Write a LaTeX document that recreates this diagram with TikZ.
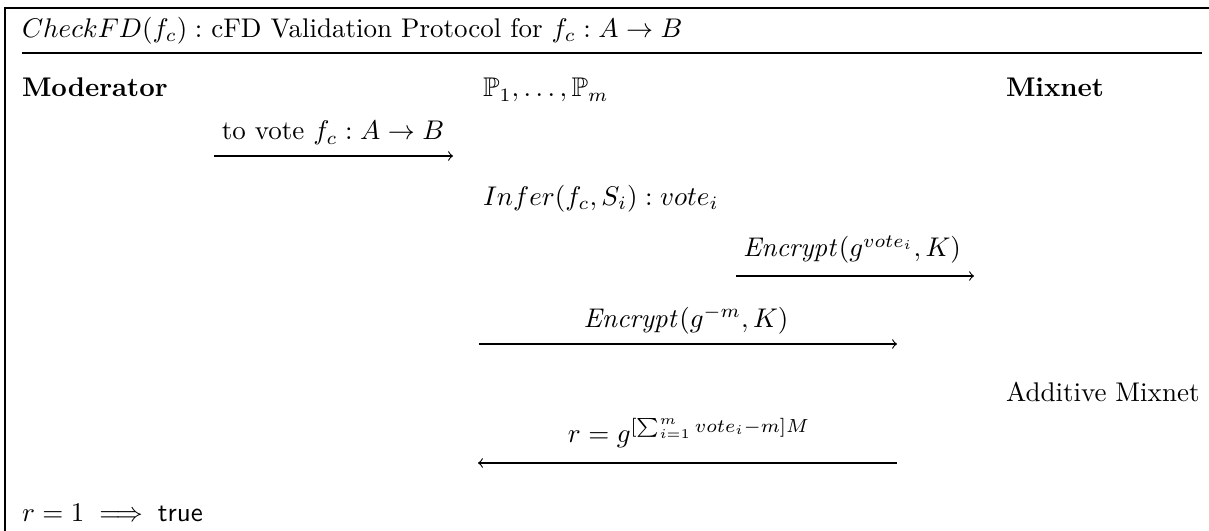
\documentclass[tikz,border=0pt]{standalone}
\usepackage{amsmath,amssymb}
\begin{document}
\begin{tikzpicture}[x=0.3704pt,y=-0.3704pt,
  frame/.style={line width=0.4pt},
  txt/.style={anchor=base west,inner sep=0pt,outer sep=0pt},
  lbl/.style={anchor=base,inner sep=0pt,outer sep=0pt},
  msg/.style={->,line width=0.4pt}]
\useasboundingbox (0,0) rectangle (1209,531);
% frame
\coordinate (tl) at (5,8);
\coordinate (tr) at (1212,8);
\coordinate (bl) at (5,534);
\draw[frame] (tr) -- (tl) -- (bl);
\coordinate (sepL) at (22,53);
\coordinate (sepR) at (1202,53);
\draw[frame] (sepL) -- (sepR);
% title
\node[txt] (title) at (22,37.5) {$CheckFD(f_c) :$ cFD Validation Protocol for $f_c : A \rightarrow B$};
% parties
\node[txt] (mod) at (22,97) {\textbf{Moderator}};
\node[txt] (parts) at (483,97) {$\mathbb{P}_1, \ldots, \mathbb{P}_m$};
\node[txt] (mix) at (1006,97) {\textbf{Mixnet}};
% message 1
\coordinate (a1s) at (214,156);
\coordinate (a1e) at (453,156);
\draw[msg] (a1s) -- (a1e);
\node[lbl] (l1) at (333,140) {to vote $f_c : A \rightarrow B$};
% infer
\node[txt] (infer) at (483,205) {$Infer(f_c, S_i) : vote_i$};
% message 2
\coordinate (a2s) at (736,276);
\coordinate (a2e) at (974,276);
\draw[msg] (a2s) -- (a2e);
\node[lbl] (l2) at (852,257) {$\mathit{Encrypt}(g^{vote_i}, K)$};
% message 3
\coordinate (a3s) at (479,344);
\coordinate (a3e) at (897,344);
\draw[msg] (a3s) -- (a3e);
\node[lbl] (l3) at (686,327) {$\mathit{Encrypt}(g^{-m}, K)$};
% additive mixnet
\node[txt] (amix) at (1006,401) {Additive Mixnet};
% message 4
\coordinate (a4s) at (897,463);
\coordinate (a4e) at (478,463);
\draw[msg] (a4s) -- (a4e);
\node[lbl] (l4) at (689,442) {$r = g^{[\sum_{i=1}^{m} vote_i - m]M}$};
% result
\node[txt] (res) at (22,521) {$r = 1 \implies \textsf{true}$};
\end{tikzpicture}
\end{document}
